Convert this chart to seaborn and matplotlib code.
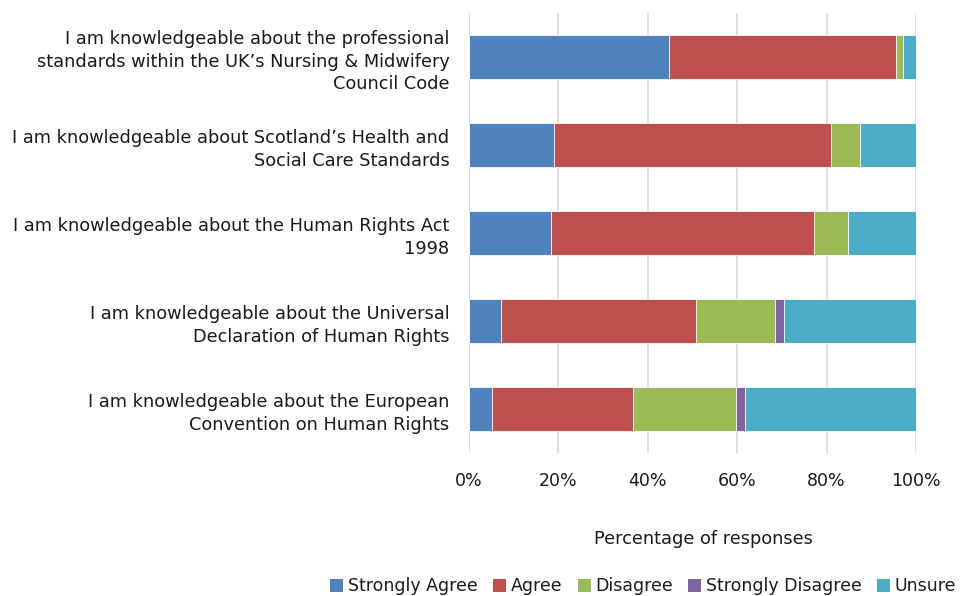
import matplotlib
matplotlib.use("Agg")
import matplotlib.pyplot as plt
from matplotlib.patches import Patch
from matplotlib.ticker import PercentFormatter
import seaborn as sns
import pandas as pd

statements = [
    "I am knowledgeable about the professional\nstandards within the UK\u2019s Nursing & Midwifery\nCouncil Code",
    "I am knowledgeable about Scotland\u2019s Health and\nSocial Care Standards",
    "I am knowledgeable about the Human Rights Act\n1998",
    "I am knowledgeable about the Universal\nDeclaration of Human Rights",
    "I am knowledgeable about the European\nConvention on Human Rights",
]
responses = ["Strongly Agree", "Agree", "Disagree", "Strongly Disagree", "Unsure"]

strongly_agree = [44.8, 19.1, 18.4, 7.2, 5.1]
agree = [50.7, 61.8, 58.8, 43.6, 31.7]
disagree = [1.6, 6.6, 7.5, 17.6, 22.9]
strongly_disagree = [0.0, 0.0, 0.0, 2.1, 2.1]
unsure = [2.9, 12.5, 15.3, 29.5, 38.2]

colors = ["#4F81BD", "#C0504D", "#9BBB59", "#8064A2", "#4BACC6"]

df = pd.DataFrame({
    "Statement": statements,
    "Strongly Agree": strongly_agree,
    "Agree": agree,
    "Disagree": disagree,
    "Strongly Disagree": strongly_disagree,
    "Unsure": unsure,
})
# cumulative totals so each layer can be overdrawn from the widest down
cum = df[responses].cumsum(axis=1)
cum["Statement"] = df["Statement"]

sns.set_theme(style="white")
plt.rcParams["font.family"] = ["DejaVu Sans"]

fig = plt.figure(figsize=(9.6, 5.96), dpi=100)
ax = fig.add_axes([0.4885, 0.240, 0.4656, 0.738])

for resp, col in reversed(list(zip(responses, colors))):
    sns.barplot(data=cum, x=resp, y="Statement", orient="h", color=col,
                width=0.5, ax=ax, edgecolor="white", linewidth=0.6,
                saturation=1)

ax.set_xlim(0, 100)
ax.set_xticks([0, 20, 40, 60, 80, 100])
ax.xaxis.set_major_formatter(PercentFormatter(decimals=0))
ax.grid(axis="x", color="#D9D9D9", linewidth=1.2)
ax.set_axisbelow(True)
for s in ax.spines.values():
    s.set_visible(False)

ax.set_ylabel("")
ax.set_xlabel("Percentage of responses", fontsize=12.8, color="#1a1a1a", labelpad=28.5)
ax.xaxis.set_label_coords(0.524, -0.175)
ax.tick_params(axis="y", length=0, pad=14, labelsize=12.8, labelcolor="#1a1a1a")
ax.tick_params(axis="x", length=0, pad=13.7, labelsize=12.5, labelcolor="#1a1a1a")
for t in ax.get_yticklabels():
    t.set_horizontalalignment("right")
    t.set_multialignment("right")
    t.set_linespacing(1.35)

handles = [Patch(facecolor=c, edgecolor="none") for c in colors]
fig.legend(handles, responses, loc="lower center", bbox_to_anchor=(0.67, -0.025),
           ncol=5, frameon=False, fontsize=12.5, handlelength=0.75,
           handleheight=0.75, handletextpad=0.25, columnspacing=0.9,
           labelcolor="#1a1a1a")

fig.savefig("out.png", dpi=100)
